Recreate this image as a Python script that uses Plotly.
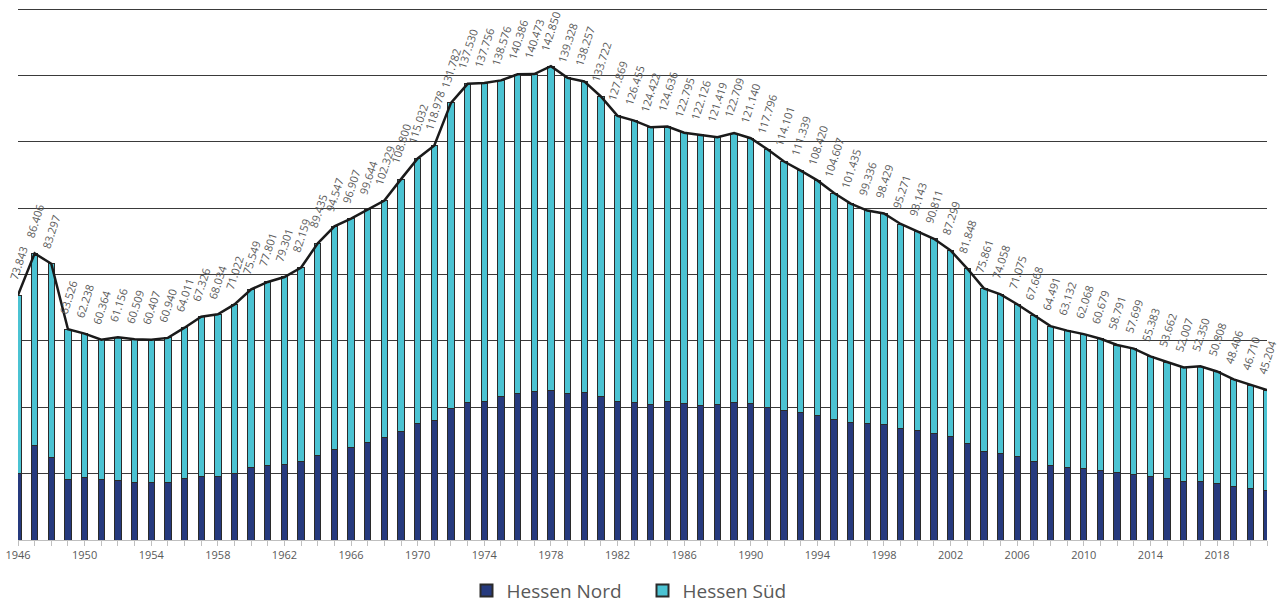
import plotly.graph_objects as go

years = list(range(1946, 2022))

totals = [73843, 86406, 83297, 63526, 62238, 60364, 61156, 60509, 60407, 60940,
          64011, 67326, 68034, 71022, 75549, 77801, 79301, 82159, 89435, 94547,
          96907, 99644, 102329, 108800, 115032, 118978, 131782, 137530, 137756, 138576,
          140386, 140473, 142850, 139328, 138257, 133722, 127869, 126455, 124422, 124636,
          122795, 122126, 121419, 122709, 121140, 117796, 114101, 111339, 108420, 104607,
          101435, 99336, 98429, 95271, 93143, 90811, 87299, 81848, 75861, 74058,
          71075, 67668, 64491, 63132, 62068, 60679, 58791, 57699, 55383, 53662,
          52007, 52350, 50808, 48406, 46710, 45204]

nord = [20100, 28400, 25000, 18300, 18900, 18100, 17800, 17200, 17200, 17200,
        18400, 19200, 19200, 20100, 21800, 22400, 22800, 23700, 25600, 27200,
        28000, 29500, 30800, 32600, 35000, 36100, 39600, 41600, 41900, 43300,
        44200, 44900, 45000, 44200, 44400, 43300, 41800, 41400, 40900, 41800,
        41300, 40700, 41000, 41600, 41200, 40100, 39100, 38300, 37500, 36300,
        35400, 35000, 34900, 33500, 33100, 32200, 31200, 29200, 26800, 26200,
        25200, 23800, 22600, 22000, 21600, 21100, 20400, 19800, 19000, 18400,
        17600, 17600, 17000, 16200, 15600, 15000]

sued = [t - n for t, n in zip(totals, nord)]

tick_years = list(range(1946, 2022, 4))

def fmt(v):
    return f"{v:,}".replace(",", ".")

fig = go.Figure()
fig.add_trace(go.Bar(x=years, y=nord, name="Hessen Nord", width=0.38,
                     marker=dict(color="#263A7E", line=dict(color="#2b2b2b", width=1))))
fig.add_trace(go.Bar(x=years, y=sued, name="Hessen Süd", width=0.38,
                     marker=dict(color="#4BC3D3", line=dict(color="#2b2b2b", width=1))))
fig.add_trace(go.Scatter(x=years, y=totals, mode="lines", showlegend=False,
                         line=dict(color="#1a1a1a", width=2.5), hoverinfo="skip"))

annotations = []
for yr, t in zip(years, totals):
    annotations.append(dict(x=yr, y=t, text=fmt(t), showarrow=False, textangle=-72,
                            xanchor="center", yanchor="bottom", yshift=11,
                            font=dict(family="Open Sans, sans-serif", size=11, color="#595959")))

fig.update_layout(
    width=1279, height=605,
    barmode="stack",
    plot_bgcolor="white", paper_bgcolor="white",
    margin=dict(l=18, r=12, t=6, b=65, autoexpand=False),
    annotations=annotations,
    legend=dict(orientation="h", x=0.5, xanchor="center", y=-0.095, yanchor="middle",
                font=dict(family="Open Sans, sans-serif", size=19, color="#595959"),
                itemsizing="constant", traceorder="normal", entrywidth=131),
    xaxis=dict(range=[1946, 2021], tickvals=tick_years, ticktext=[str(y) for y in tick_years],
               automargin=False, ticklabeloverflow="allow",
               showgrid=False, zeroline=False, showline=True, linecolor="#bfbfbf", linewidth=1,
               ticks="outside", ticklen=5, tickcolor="#bfbfbf",
               minor=dict(dtick=1, ticks="outside", ticklen=5, tickcolor="#bfbfbf", showgrid=False),
               tickfont=dict(family="Open Sans, sans-serif", size=11, color="#595959")),
    yaxis=dict(range=[0, 161000], dtick=20000, showticklabels=False, showgrid=True,
               automargin=False,
               gridcolor="#3a3a3a", gridwidth=1, zeroline=False, showline=False),
)

fig.write_html("out.html", config={"displayModeBar": False},
               post_script="document.body.style.margin='0';document.body.style.overflow='hidden';")
